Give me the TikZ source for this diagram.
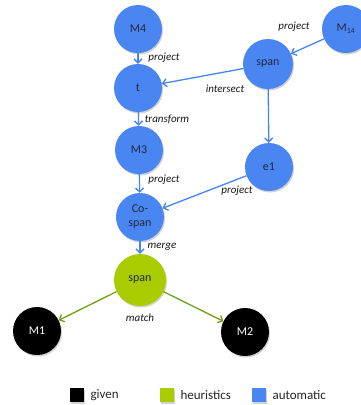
\documentclass[tikz,border=0pt]{standalone}
\usepackage{fontspec}
\setmainfont{Carlito}
\usetikzlibrary{arrows.meta,shadows}
\definecolor{autoblue}{RGB}{74,134,242}
\definecolor{autoline}{RGB}{70,132,240}
\definecolor{heurgreen}{RGB}{168,204,0}
\definecolor{heurline}{RGB}{110,160,20}
\definecolor{nodetext}{RGB}{35,40,60}
\tikzset{
  nd/.style={circle, minimum size=48pt, inner sep=0pt, font=\fontsize{12}{13}\selectfont,
    drop shadow={shadow xshift=1pt, shadow yshift=-1.5pt, opacity=0.35}},
  auto/.style={nd, fill=autoblue, text=nodetext},
  heur/.style={nd, fill=heurgreen, text=nodetext},
  given/.style={nd, fill=black, text=white},
  lab/.style={font=\itshape\fontsize{11}{12}\selectfont, text=black!90},
  bl/.style={draw=autoline, line width=1.3pt, -{Straight Barb[length=4pt,width=8pt]}},
  gl/.style={draw=heurline, line width=1.3pt, -{Straight Barb[length=4pt,width=8pt]}},
  sq/.style={minimum size=14pt, inner sep=0pt,
    drop shadow={shadow xshift=1pt, shadow yshift=-1.5pt, opacity=0.35}},
  legtext/.style={anchor=west, font=\fontsize{13}{14}\selectfont, text=black!85}
}
\begin{document}
\begin{tikzpicture}[x=1pt,y=-1pt]
\useasboundingbox[fill=white] (0,0) rectangle (360,405);
\node[auto] (m4) at (138,29) {M4};
\node[auto] (t) at (138,88) {t};
\node[auto, minimum size=50pt] (spanA) at (268,64) {span};
\node[auto] (m14) at (346,29) {M\textsubscript{14}};
\node[auto] (m3) at (139,150) {M3};
\node[auto] (e1) at (269,167) {e1};
\node[auto, align=center, font=\fontsize{12}{14}\selectfont] (cospan) at (140,217) {Co-\\span};
\node[heur, minimum size=52pt] (spanB) at (140,280) {span};
\node[given] (m1) at (37,331) {M1};
\node[given] (m2) at (245,332) {M2};

\draw[bl] (m4) -- (t);
\draw[bl] (m14) -- (spanA);
\draw[bl] (spanA) -- (t);
\draw[bl] (spanA) -- (e1);
\draw[bl] (t) -- (m3);
\draw[bl] (m3) -- (cospan);
\draw[bl] (e1) -- (cospan);
\draw[bl] (cospan) -- (spanB);
\draw[gl] (spanB) -- (m1);
\draw[gl] (spanB) -- (m2);

\node[lab] (l1) at (164,58) {project};
\node[lab] (l2) at (294,27) {project};
\node[lab] (l3) at (225,89) {intersect};
\node[lab] (l4) at (167,119) {transform};
\node[lab] (l5) at (164,180) {project};
\node[lab] (l6) at (237,191) {project};
\node[lab] (l7) at (162,247) {merge};
\node[lab] (l8) at (140,318) {match};

\node[sq, fill=black] (q1) at (77,395) {};
\node[legtext] (t1) at (87,395) {given};
\node[sq, fill=heurgreen] (q2) at (167,395) {};
\node[legtext] (t2) at (177,395) {heuristics};
\node[sq, fill=autoblue] (q3) at (259,395) {};
\node[legtext] (t3) at (269,395) {automatic};
\end{tikzpicture}
\end{document}
